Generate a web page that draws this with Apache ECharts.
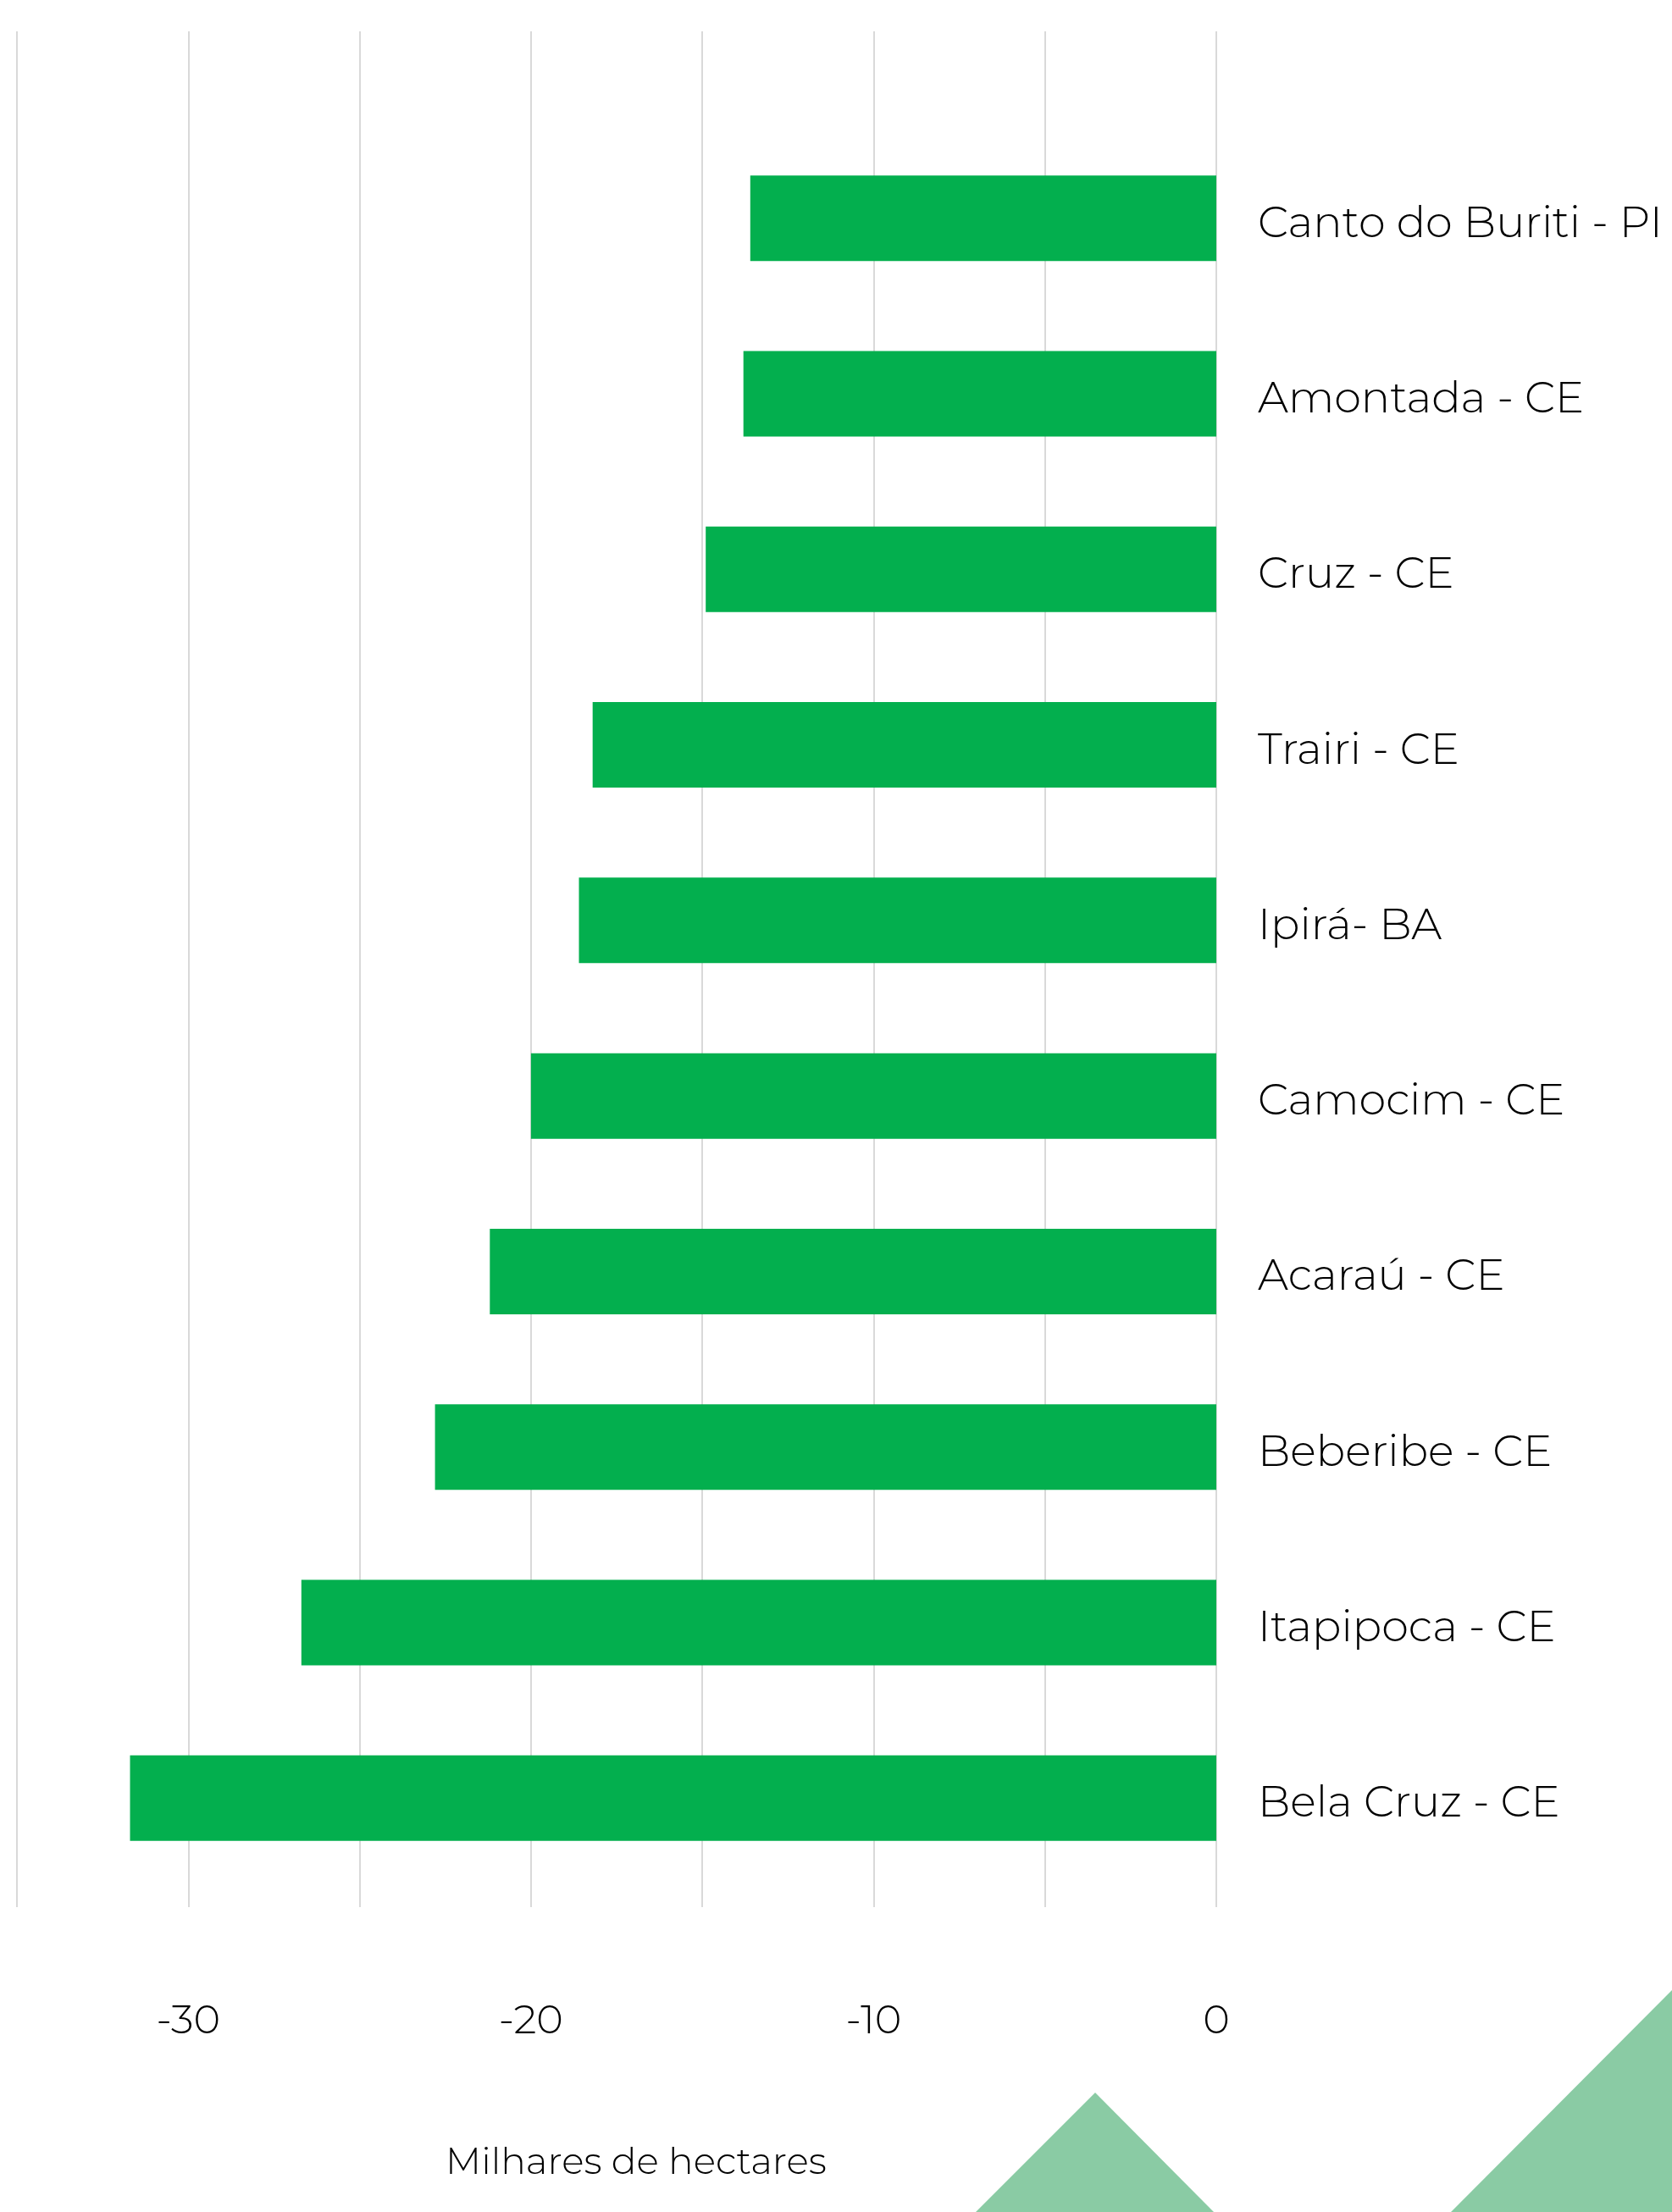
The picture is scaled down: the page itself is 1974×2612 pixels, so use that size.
<!DOCTYPE html>
<html>
<head>
<meta charset="utf-8">
<script src="https://cdn.jsdelivr.net/npm/echarts@6/dist/echarts.min.js"></script>
<style>
  html, body { margin: 0; padding: 0; background: #fff; }
  #chart { width: 1974px; height: 2612px; }
</style>
</head>
<body>
<div id="chart"></div>
<script>
// municípios, de cima para baixo
const categories = [
  'Canto do Buriti - PI',
  'Amontada - CE',
  'Cruz - CE',
  'Trairi - CE',
  'Ipirá- BA',
  'Camocim - CE',
  'Acaraú - CE',
  'Beberibe - CE',
  'Itapipoca - CE',
  'Bela Cruz - CE'
]
// milhares de hectares
const values = [-13.6, -13.8, -14.9, -18.2, -18.6, -20.0, -21.2, -22.8, -26.7, -31.7]
const xMin = -35
const xMax = 0
const xInterval = 5
const tickLabels = ['-30', '-20', '-10', '0']
const axisTitle = 'Milhares de hectares'

const FONT = 'Montserrat, "Open Sans", sans-serif'
const GREEN = '#03af4e'
const LIGHT = '#8acba4'

const chart = echarts.init(document.getElementById('chart'), null, { renderer: 'canvas' })

chart.setOption({
  backgroundColor: '#ffffff',
  animation: false,
  grid: [
    // grade das linhas verticais
    { left: 20, right: 538, top: 37, bottom: 360, containLabel: false, outerBoundsMode: 'none' },
    // área das barras
    { left: 20, right: 538, top: 154, bottom: 385, containLabel: false, outerBoundsMode: 'none' }
  ],
  xAxis: [
    {
      gridIndex: 0,
      type: 'value',
      min: xMin,
      max: xMax,
      interval: xInterval,
      axisLine: { show: false },
      axisTick: { show: false },
      splitLine: { show: true, lineStyle: { color: '#d9d9d9', width: 2 } },
      axisLabel: {
        margin: 111,
        fontSize: 48,
        fontWeight: 300,
        fontFamily: FONT,
        color: '#000',
        formatter: function(v) {
          const s = String(Math.round(v))
          return tickLabels.indexOf(s) >= 0 ? s : ''
        }
      }
    },
    {
      gridIndex: 1,
      type: 'value',
      min: xMin,
      max: xMax,
      interval: xInterval,
      show: false,
      splitLine: { show: false }
    }
  ],
  yAxis: [
    {
      gridIndex: 0,
      type: 'value',
      show: false,
      splitLine: { show: false }
    },
    {
      gridIndex: 1,
      type: 'category',
      data: categories,
      inverse: true,
      position: 'right',
      axisLine: { show: false },
      axisTick: { show: false },
      splitLine: { show: false },
      axisLabel: {
        margin: 49,
        align: 'left',
        verticalAlign: 'top',
        lineHeight: 14,
        fontSize: 51,
        fontWeight: 300,
        fontFamily: FONT,
        color: '#000'
      }
    }
  ],
  series: [
    {
      type: 'bar',
      xAxisIndex: 1,
      yAxisIndex: 1,
      data: values,
      barWidth: 101,
      itemStyle: { color: GREEN }
    }
  ],
  graphic: [
    {
      type: 'text',
      x: 751,
      y: 2554,
      style: {
        text: axisTitle,
        align: 'center',
        verticalAlign: 'middle',
        fontSize: 44,
        fontWeight: 300,
        fontFamily: FONT,
        fill: '#000'
      }
    },
    {
      type: 'polygon',
      shape: { points: [[1152, 2612], [1293, 2471], [1433, 2612]] },
      style: { fill: LIGHT }
    },
    {
      type: 'polygon',
      shape: { points: [[1713, 2612], [1974, 2350], [1974, 2612]] },
      style: { fill: LIGHT }
    }
  ]
})
</script>
</body>
</html>
